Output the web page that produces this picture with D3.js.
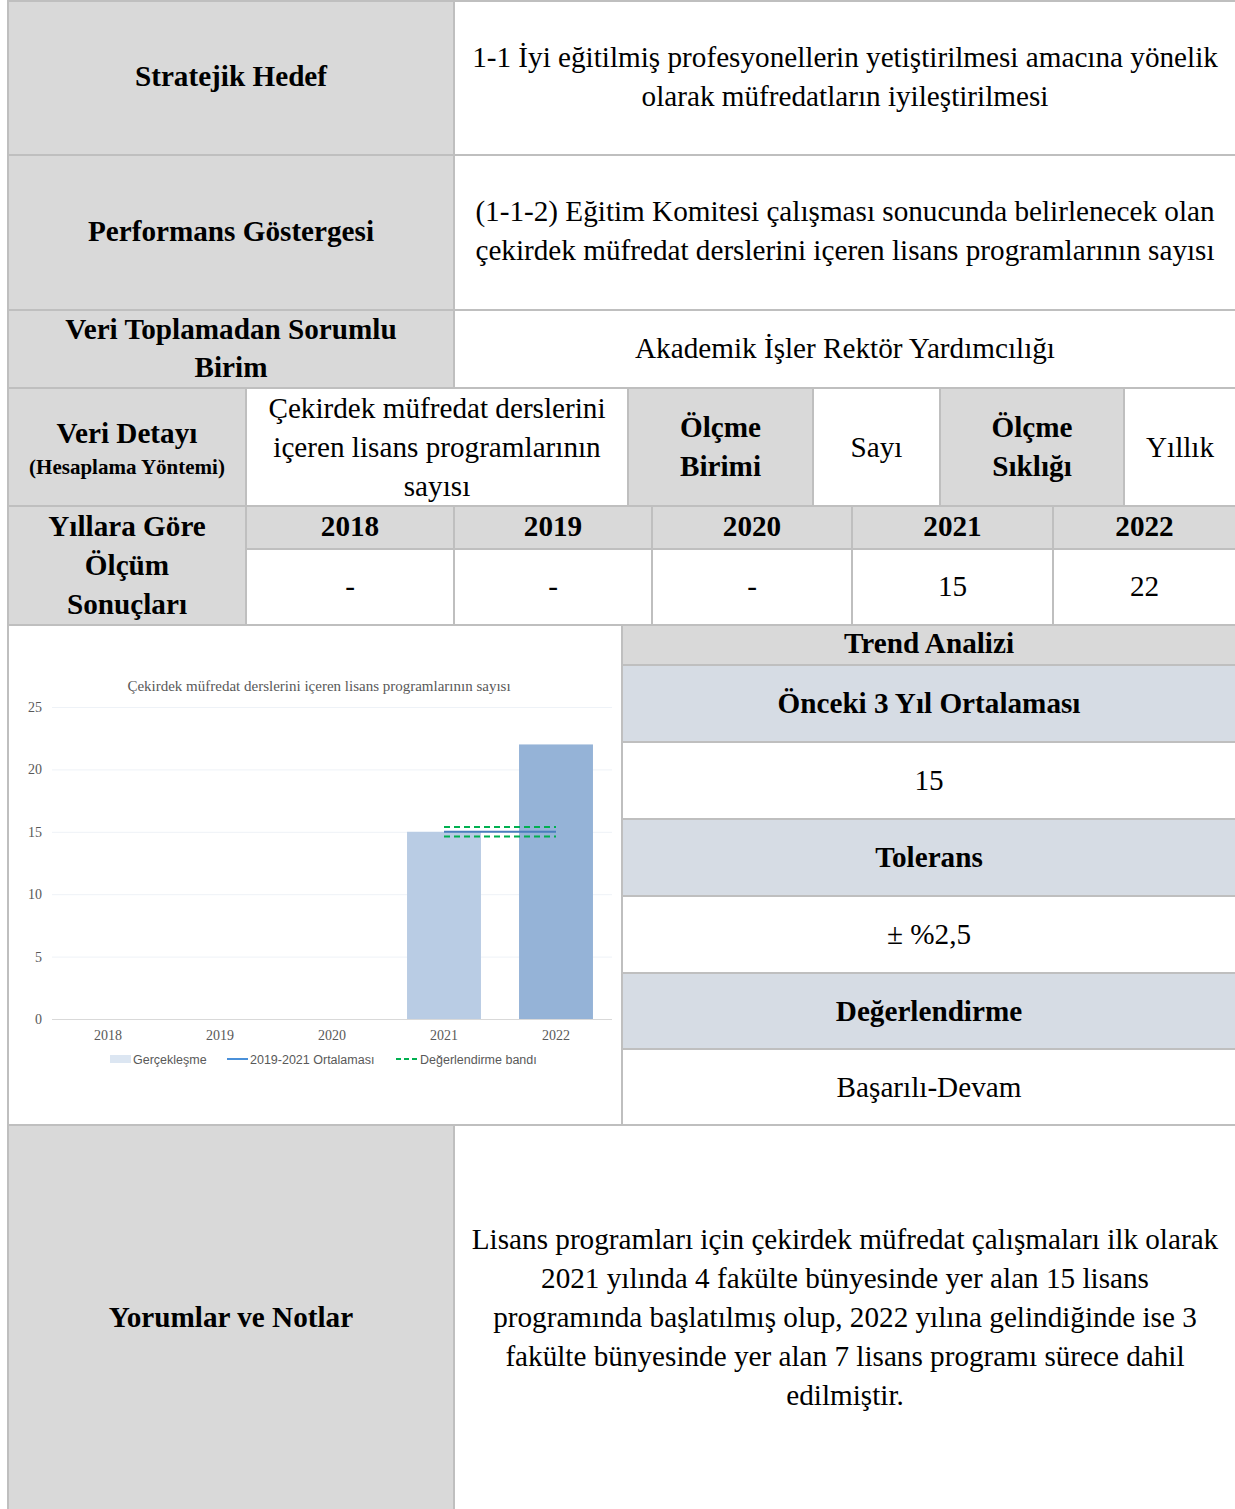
<!DOCTYPE html>
<html>
<head>
<meta charset="utf-8">
<script src="https://cdn.jsdelivr.net/npm/d3@7"></script>
<style>
  body { margin: 0; background: #fff; }
  svg text { font-family: "Liberation Serif", "Times New Roman", serif; }
  svg text.sans { font-family: "Liberation Sans", Arial, sans-serif; }
</style>
</head>
<body>
<div id="container"></div>
<script>
/* DATA */
const years = ["2018", "2019", "2020", "2021", "2022"];
const yearResults = ["-", "-", "-", "15", "22"];
const chartValues = [null, null, null, 15, 22];
const prevAverage = 15;
const tolerance = 0.025;
const yTicks = [0, 5, 10, 15, 20, 25];
const chartTitle = "Çekirdek müfredat derslerini içeren lisans programlarının sayısı";
const legendLabels = ["Gerçekleşme", "2019-2021 Ortalaması", "Değerlendirme bandı"];

const goalLines = ["1-1 İyi eğitilmiş profesyonellerin yetiştirilmesi amacına yönelik", "olarak müfredatların iyileştirilmesi"];
const indicatorLines = ["(1-1-2) Eğitim Komitesi çalışması sonucunda belirlenecek olan", "çekirdek müfredat derslerini içeren lisans programlarının sayısı"];
const unitText = "Akademik İşler Rektör Yardımcılığı";
const detailLines = ["Çekirdek müfredat derslerini", "içeren lisans programlarının", "sayısı"];
const trendLabels = ["Önceki 3 Yıl Ortalaması", "Tolerans", "Değerlendirme"];
const trendValues = ["15", "± %2,5", "Başarılı-Devam"];
const noteLines = [
  "Lisans programları için çekirdek müfredat çalışmaları ilk olarak",
  "2021 yılında 4 fakülte bünyesinde yer alan 15 lisans",
  "programında başlatılmış olup, 2022 yılına gelindiğinde ise 3",
  "fakülte bünyesinde yer alan 7 lisans programı sürece dahil",
  "edilmiştir."
];

/* CONSTANTS */
const W = 1235, H = 1509;
const FS = 29.2;
const GRAY = "#d9d9d9", BLUEGRAY = "#d6dce4", BORDER = "#bfbfbf";

const svg = d3.select("#container")
  .append("svg")
  .attr("width", W)
  .attr("height", H);

// one table cell with centered text lines
function cell(x0, x1, y0, y1, fill, lines, opts = {}) {
  const size = opts.size || FS;
  const lh = opts.lh || 39;
  svg.append("rect")
    .attr("x", x0).attr("y", y0)
    .attr("width", x1 - x0).attr("height", y1 - y0)
    .attr("fill", fill)
    .attr("stroke", BORDER)
    .attr("stroke-width", 2);
  if (!lines) return;
  const cx = (x0 + x1) / 2;
  const cy = opts.cy != null ? opts.cy : (y0 + y1) / 2;
  const first = cy - (lines.length - 1) * lh / 2;
  lines.forEach((t, i) => {
    svg.append("text")
      .attr("x", cx)
      .attr("y", first + i * lh + size * 0.33)
      .attr("text-anchor", "middle")
      .attr("font-size", size)
      .attr("font-weight", opts.bold ? "bold" : "normal")
      .attr("fill", "#000")
      .text(t);
  });
}

const L = 8, MID = 454, R = 1236;

// row 1, 2, 3
cell(L, MID, 1, 155, GRAY, ["Stratejik Hedef"], {bold: true, cy: 76});
cell(MID, R, 1, 155, "#fff", goalLines, {cy: 77});
cell(L, MID, 155, 310, GRAY, ["Performans Göstergesi"], {bold: true, cy: 231});
cell(MID, R, 155, 310, "#fff", indicatorLines, {cy: 231});
cell(L, MID, 310, 388, GRAY, ["Veri Toplamadan Sorumlu", "Birim"], {bold: true, lh: 38, cy: 348});
cell(MID, R, 310, 388, "#fff", [unitText], {cy: 348});

// row 4
cell(L, 246, 388, 506, GRAY, null);
svg.append("text").attr("x", 127).attr("y", 443).attr("text-anchor", "middle")
  .attr("font-size", FS).attr("font-weight", "bold").text("Veri Detayı");
svg.append("text").attr("x", 127).attr("y", 474).attr("text-anchor", "middle")
  .attr("font-size", 21).attr("font-weight", "bold").text("(Hesaplama Yöntemi)");
cell(246, 628, 388, 506, "#fff", detailLines, {cy: 447});
cell(628, 813, 388, 506, GRAY, ["Ölçme", "Birimi"], {bold: true, cy: 447});
cell(813, 940, 388, 506, "#fff", ["Sayı"], {cy: 447});
cell(940, 1124, 388, 506, GRAY, ["Ölçme", "Sıklığı"], {bold: true, cy: 447});
cell(1124, R, 388, 506, "#fff", ["Yıllık"], {cy: 447});

// rows 5-6: results by year
cell(L, 246, 506, 625, GRAY, ["Yıllara Göre", "Ölçüm", "Sonuçları"], {bold: true, cy: 565});
const yearEdges = [246, 454, 652, 852, 1053, R];
years.forEach((y, i) => {
  cell(yearEdges[i], yearEdges[i + 1], 506, 549, GRAY, [y], {bold: true, cy: 526});
  cell(yearEdges[i], yearEdges[i + 1], 549, 625, "#fff", [yearResults[i]], {cy: 586});
});

// row 7 right: trend analysis
const TX = 622;
cell(TX, R, 625, 665, GRAY, ["Trend Analizi"], {bold: true, cy: 643});
const trendEdges = [665, 742, 819, 896, 973, 1049, 1125];
trendLabels.forEach((t, i) => {
  cell(TX, R, trendEdges[2 * i], trendEdges[2 * i + 1], BLUEGRAY, [t], {bold: true});
  cell(TX, R, trendEdges[2 * i + 1], trendEdges[2 * i + 2], "#fff", [trendValues[i]]);
});

// row 7 left: chart cell
cell(L, TX, 625, 1125, "#fff", null);

// row 8
cell(L, MID, 1125, H + 4, GRAY, ["Yorumlar ve Notlar"], {bold: true, cy: 1317});
cell(MID, R, 1125, H + 4, "#fff", noteLines, {cy: 1317});

/* CHART */
const chart = svg.append("g");

const xScale = d3.scaleBand()
  .domain(years)
  .range([52, 612])
  .paddingInner(0.34)
  .paddingOuter(0.17);

const yScale = d3.scaleLinear()
  .domain([0, 25])
  .range([1019, 707]);

// title
chart.append("text")
  .attr("x", 319).attr("y", 691)
  .attr("text-anchor", "middle")
  .attr("font-size", 15)
  .attr("fill", "#595959")
  .text(chartTitle);

// gridlines and y labels
const yAxis = chart.append("g")
  .attr("transform", "translate(52,0)")
  .call(d3.axisLeft(yScale).tickValues(yTicks).tickSize(-560).tickPadding(10));
yAxis.select(".domain").remove();
yAxis.selectAll(".tick line").attr("stroke", d => d === 0 ? "#d9d9d9" : "#eef2f7");
yAxis.selectAll(".tick text")
  .attr("font-size", 14)
  .attr("fill", "#595959");

// x labels
const xAxis = chart.append("g")
  .attr("transform", `translate(0,${yScale(0)})`)
  .call(d3.axisBottom(xScale).tickSize(0).tickPadding(11));
xAxis.select(".domain").remove();
xAxis.selectAll(".tick text")
  .attr("font-size", 14)
  .attr("fill", "#595959");

// bars
const barColors = ["#b9cce4", "#b9cce4", "#b9cce4", "#b9cce4", "#95b3d7"];
chart.selectAll(".bar")
  .data(years.map((y, i) => ({year: y, value: chartValues[i], color: barColors[i]})).filter(d => d.value != null))
  .join("rect")
  .attr("class", "bar")
  .attr("x", d => xScale(d.year))
  .attr("y", d => yScale(d.value))
  .attr("width", xScale.bandwidth())
  .attr("height", d => yScale(0) - yScale(d.value))
  .attr("fill", d => d.color);

// average line and tolerance band
const lineX0 = xScale("2021") + xScale.bandwidth() / 2;
const lineX1 = xScale("2022") + xScale.bandwidth() / 2;
const band = [prevAverage * (1 + tolerance), prevAverage * (1 - tolerance)];
band.forEach(v => {
  chart.append("line")
    .attr("x1", lineX0).attr("x2", lineX1)
    .attr("y1", yScale(v)).attr("y2", yScale(v))
    .attr("stroke", "#00b050")
    .attr("stroke-width", 2)
    .attr("stroke-dasharray", "6,4");
});
chart.append("line")
  .attr("x1", lineX0).attr("x2", lineX1)
  .attr("y1", yScale(prevAverage)).attr("y2", yScale(prevAverage))
  .attr("stroke", "#4a7ebb")
  .attr("stroke-width", 2);

// legend
const legY = 1059;
const leg = chart.append("g");
leg.append("rect").attr("x", 110).attr("y", legY - 4).attr("width", 21).attr("height", 8).attr("fill", "#dce6f2");
leg.append("line").attr("x1", 227).attr("x2", 248).attr("y1", legY).attr("y2", legY)
  .attr("stroke", "#4a90d9").attr("stroke-width", 2);
leg.append("line").attr("x1", 396).attr("x2", 418).attr("y1", legY).attr("y2", legY)
  .attr("stroke", "#00b050").attr("stroke-width", 2).attr("stroke-dasharray", "5,3");
const legTextX = [133, 250, 420];
legendLabels.forEach((t, i) => {
  leg.append("text")
    .attr("class", "sans")
    .attr("x", legTextX[i]).attr("y", legY + 5)
    .attr("font-size", 12.5)
    .attr("fill", "#595959")
    .text(t);
});
</script>
</body>
</html>
